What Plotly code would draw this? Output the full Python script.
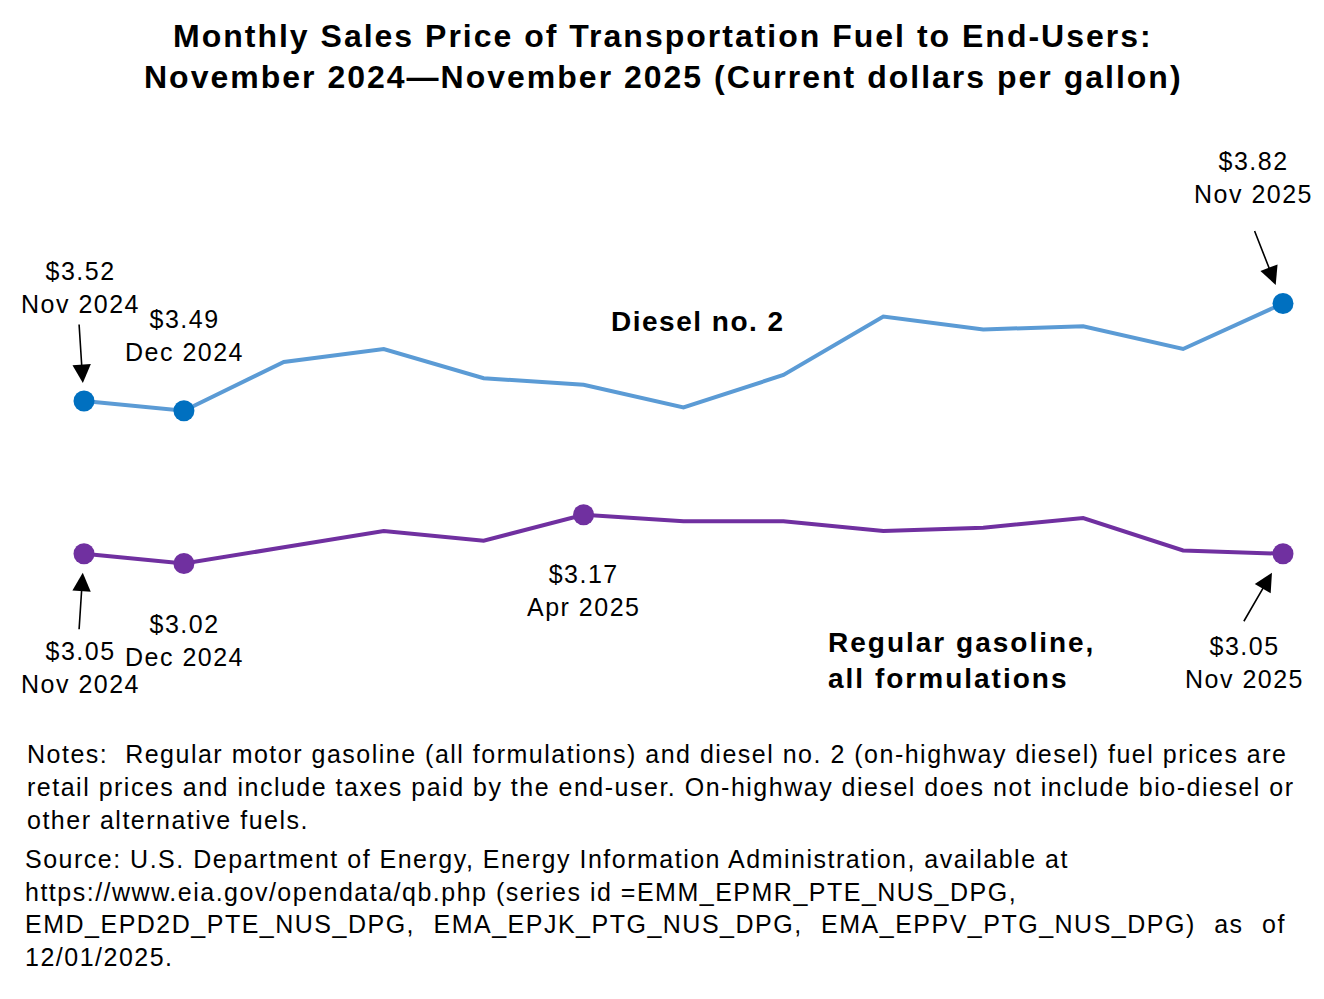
import plotly.graph_objects as go

months = ["Nov 2024", "Dec 2024", "Jan 2025", "Feb 2025", "Mar 2025", "Apr 2025", "May 2025",
          "Jun 2025", "Jul 2025", "Aug 2025", "Sep 2025", "Oct 2025", "Nov 2025"]
diesel = [3.52, 3.49, 3.64, 3.68, 3.59, 3.57, 3.50, 3.60, 3.78, 3.74, 3.75, 3.68, 3.82]
gasoline = [3.05, 3.02, 3.07, 3.12, 3.09, 3.17, 3.15, 3.15, 3.12, 3.13, 3.16, 3.06, 3.05]
diesel_marked = [0, 1, 12]
gas_marked = [0, 1, 5, 12]

title_lines = ["Monthly Sales Price of Transportation Fuel to End-Users:",
               "November 2024\u2014November 2025 (Current dollars per gallon)"]
notes_lines = [
    "Notes:  Regular motor gasoline (all formulations) and diesel no. 2 (on-highway diesel) fuel prices are",
    "retail prices and include taxes paid by the end-user. On-highway diesel does not include bio-diesel or",
    "other alternative fuels.",
]
source_lines = [
    "Source: U.S. Department of Energy, Energy Information Administration, available at",
    "https://www.eia.gov/opendata/qb.php (series id =EMM_EPMR_PTE_NUS_DPG,",
    "EMD_EPD2D_PTE_NUS_DPG, EMA_EPJK_PTG_NUS_DPG, EMA_EPPV_PTG_NUS_DPG) as of",
    "12/01/2025.",
]

W, H = 1324, 999
FONT = "Arial, Liberation Sans, sans-serif"
x = list(range(len(months)))


def px(v):
    return v / W


def py(v):
    return 1 - v / H


def sp(t, ls, ws=0):
    style = f"letter-spacing:{ls}px"
    if ws:
        style += f";word-spacing:{ws}px"
    return f'<span style="{style}">{t}</span>'


fig = go.Figure()
fig.add_trace(go.Scatter(x=x, y=diesel, mode="lines", line=dict(color="#5B9BD5", width=4),
                         hoverinfo="skip", showlegend=False))
fig.add_trace(go.Scatter(x=x, y=gasoline, mode="lines", line=dict(color="#7030A0", width=4),
                         hoverinfo="skip", showlegend=False))
fig.add_trace(go.Scatter(x=[x[i] for i in diesel_marked], y=[diesel[i] for i in diesel_marked],
                         mode="markers", marker=dict(color="#0070C0", size=21),
                         customdata=[months[i] for i in diesel_marked],
                         hovertemplate="%{customdata}: $%{y:.2f}<extra>Diesel</extra>", showlegend=False))
fig.add_trace(go.Scatter(x=[x[i] for i in gas_marked], y=[gasoline[i] for i in gas_marked],
                         mode="markers", marker=dict(color="#7030A0", size=21),
                         customdata=[months[i] for i in gas_marked],
                         hovertemplate="%{customdata}: $%{y:.2f}<extra>Gasoline</extra>", showlegend=False))

ann = []
# Title
for k, t in enumerate(title_lines):
    ann.append(dict(text="<b>" + sp(t, 2) + "</b>", xref="paper", yref="paper",
                    x=px(663), y=py(36 + 41 * k), xanchor="center", yanchor="middle", showarrow=False,
                    font=dict(family=FONT, size=32, color="black")))


# Value labels
def label(series, i, cx, cy):
    return dict(text=sp(f"${series[i]:.2f}", 1.5) + "<br>" + sp(months[i], 1.5), xref="paper", yref="paper",
                x=px(cx), y=py(cy), xanchor="center", yanchor="middle", showarrow=False,
                font=dict(family=FONT, size=25, color="black"))


ann.append(label(diesel, 0, 80, 288))
ann.append(label(diesel, 1, 184, 336))
ann.append(label(diesel, 12, 1253, 178))
ann.append(label(gasoline, 0, 80, 667))
ann.append(label(gasoline, 1, 184, 640))
ann.append(label(gasoline, 5, 583, 590))
ann.append(label(gasoline, 12, 1244, 662))


# Arrows
def arrow(series, i, axp, ayp, stand):
    return dict(x=x[i], y=series[i], xref="x", yref="y", text="", showarrow=True,
                ax=axp, ay=ayp, arrowhead=2, arrowsize=2.3, arrowwidth=1.6, arrowcolor="black",
                standoff=stand)


ann.append(arrow(diesel, 0, -5, -78, 18))
ann.append(arrow(diesel, 12, -29, -74, 20))
ann.append(arrow(gasoline, 0, -5, 77, 19))
ann.append(arrow(gasoline, 12, -40, 69, 22))

# Series labels
ann.append(dict(text="<b>" + sp("Diesel no. 2", 1.5) + "</b>", xref="paper", yref="paper",
                x=px(698), y=py(321), xanchor="center", yanchor="middle", showarrow=False,
                font=dict(family=FONT, size=28, color="black")))
ann.append(dict(text="<b>" + sp("Regular gasoline,", 2) + "<br>" + sp("all formulations", 2) + "</b>",
                xref="paper", yref="paper",
                x=px(826), y=py(660), xanchor="left", yanchor="middle", showarrow=False, align="left",
                font=dict(family=FONT, size=28, color="black")))

# Notes and source
notes_ws = [0, 0, 0]
source_ws = [0, 0, 10, 0]
for k, t in enumerate(notes_lines):
    ann.append(dict(text=sp(t, 1.5, notes_ws[k]), xref="paper", yref="paper", x=px(25), y=py(754 + 33 * k),
                    xanchor="left", yanchor="middle", showarrow=False,
                    font=dict(family=FONT, size=25, color="black")))
for k, t in enumerate(source_lines):
    ann.append(dict(text=sp(t, 1.5, source_ws[k]), xref="paper", yref="paper", x=px(23), y=py(859 + 32.7 * k),
                    xanchor="left", yanchor="middle", showarrow=False,
                    font=dict(family=FONT, size=25, color="black")))

step = (1283 - 84) / 12
fig.update_layout(
    width=W, height=H, margin=dict(l=0, r=0, t=0, b=0, pad=0),
    paper_bgcolor="white", plot_bgcolor="white",
    xaxis=dict(range=[-84 / step, (W - 84) / step], visible=False, fixedrange=True),
    yaxis=dict(range=[3.52 - (H - 401) / 325, 3.52 + 401 / 325], visible=False, fixedrange=True),
    annotations=ann, showlegend=False,
)
fig.write_html("out.html", config={"displayModeBar": False},
               post_script="document.body.style.margin='0';document.body.style.overflow='hidden';")
